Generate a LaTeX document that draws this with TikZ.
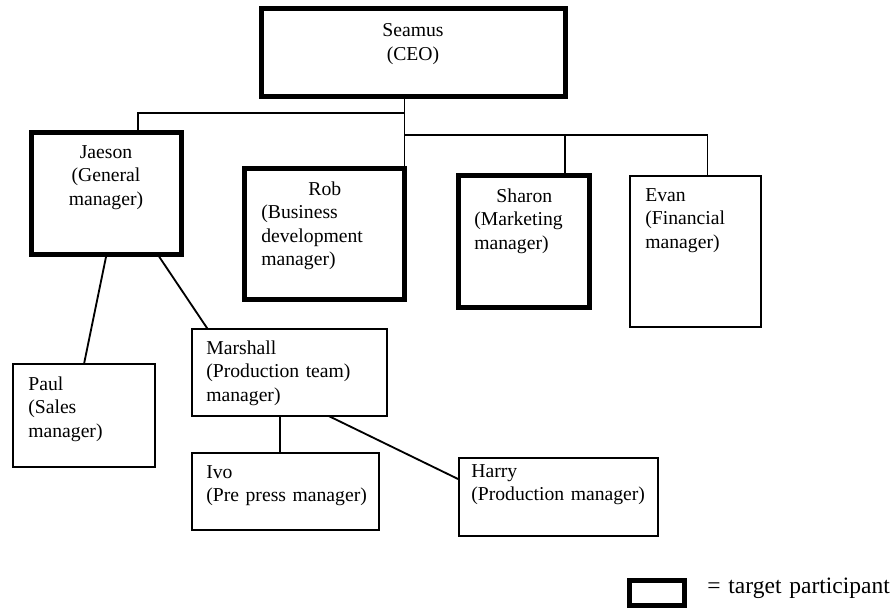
\documentclass[tikz,border=0pt]{standalone}
\usepackage{fontspec}
\setmainfont{Liberation Serif}
\begin{document}
\begin{tikzpicture}[x=0.6pt,y=-0.6pt,
        box/.style={draw, line width=1.1pt, inner sep=0pt, outer sep=0pt},
        target/.style={draw, line width=3pt, inner sep=0pt, outer sep=0pt},
        txt/.style={inner sep=0pt, anchor=base west, align=left, text width=115pt, font=\fontsize{11.8}{14.1}\selectfont},
        link/.style={line width=1.1pt}]
        \useasboundingbox (0,0) rectangle (893,608);
        % boxes
        \node[target, minimum width=182.4pt, minimum height=52.8pt] (seamus) at (413.5,52.5) {};
        \node[target, minimum width=90pt, minimum height=73.2pt] (jaeson) at (106.5,193.5) {};
        \node[target, minimum width=96pt, minimum height=78.6pt] (rob) at (324.5,234) {};
        \node[target, minimum width=78.6pt, minimum height=79.2pt] (sharon) at (524,241.5) {};
        \node[box, minimum width=78.6pt, minimum height=90.6pt] (evan) at (695.5,251.5) {};
        \node[box, minimum width=85.2pt, minimum height=61.8pt] (paul) at (84,415.5) {};
        \node[box, minimum width=117pt, minimum height=52.2pt] (marshall) at (289.5,372.5) {};
        \node[box, minimum width=112.2pt, minimum height=46.2pt] (ivo) at (285.5,491.5) {};
        \node[box, minimum width=119.4pt, minimum height=46.8pt] (harry) at (558.5,497) {};
        \node[target, minimum width=33pt, minimum height=15.3pt] (key) at (657,593) {};
        % names
        \node[txt, anchor=base, align=center] (seamus-t) at (413,37) {Seamus\\(CEO)};
        \node[txt, anchor=base, align=center] (jaeson-t) at (106,158) {Jaeson\\(General\\manager)};
        \node[txt, text width=76.2pt] (rob-t) at (261,195) {{\centering Rob\par}(Business\\development\\manager)};
        \node[txt, text width=60pt] (sharon-t) at (474,202) {{\centering Sharon\par}(Marketing\\manager)};
        \node[txt] (evan-t) at (645,201) {Evan\\(Financial\\manager)};
        \node[txt] (paul-t) at (28,390) {Paul\\(Sales\\manager)};
        \node[txt] (marshall-t) at (206,354) {Marshall\\(Production team)\\manager)};
        \node[txt] (ivo-t) at (206,478) {Ivo\\(Pre press manager)};
        \node[txt] (harry-t) at (471,477) {Harry\\(Production manager)};
        \node[txt, font=\fontsize{14.1}{17}\selectfont] (key-t) at (707,593) {= target participant};
        % lines
        \coordinate (busJ) at (405,113);
        \coordinate (busR) at (405,135);
        \draw[link] (seamus.south -| rob.north east) -- (rob.north east);
        \draw[link] (jaeson.63) |- (busJ);
        \draw[link] (busR) -| (evan.81);
        \draw[link] (sharon.58) -- (sharon.58 |- busR);
        \draw[link] (jaeson.south) -- (paul.north);
        \draw[link] (jaeson.-50) -- (marshall.152);
        \draw[link] (marshall.-102) -- (marshall.-102 |- ivo.north);
        \draw[link] (marshall.-48) -- (harry.170);
\end{tikzpicture}
\end{document}
